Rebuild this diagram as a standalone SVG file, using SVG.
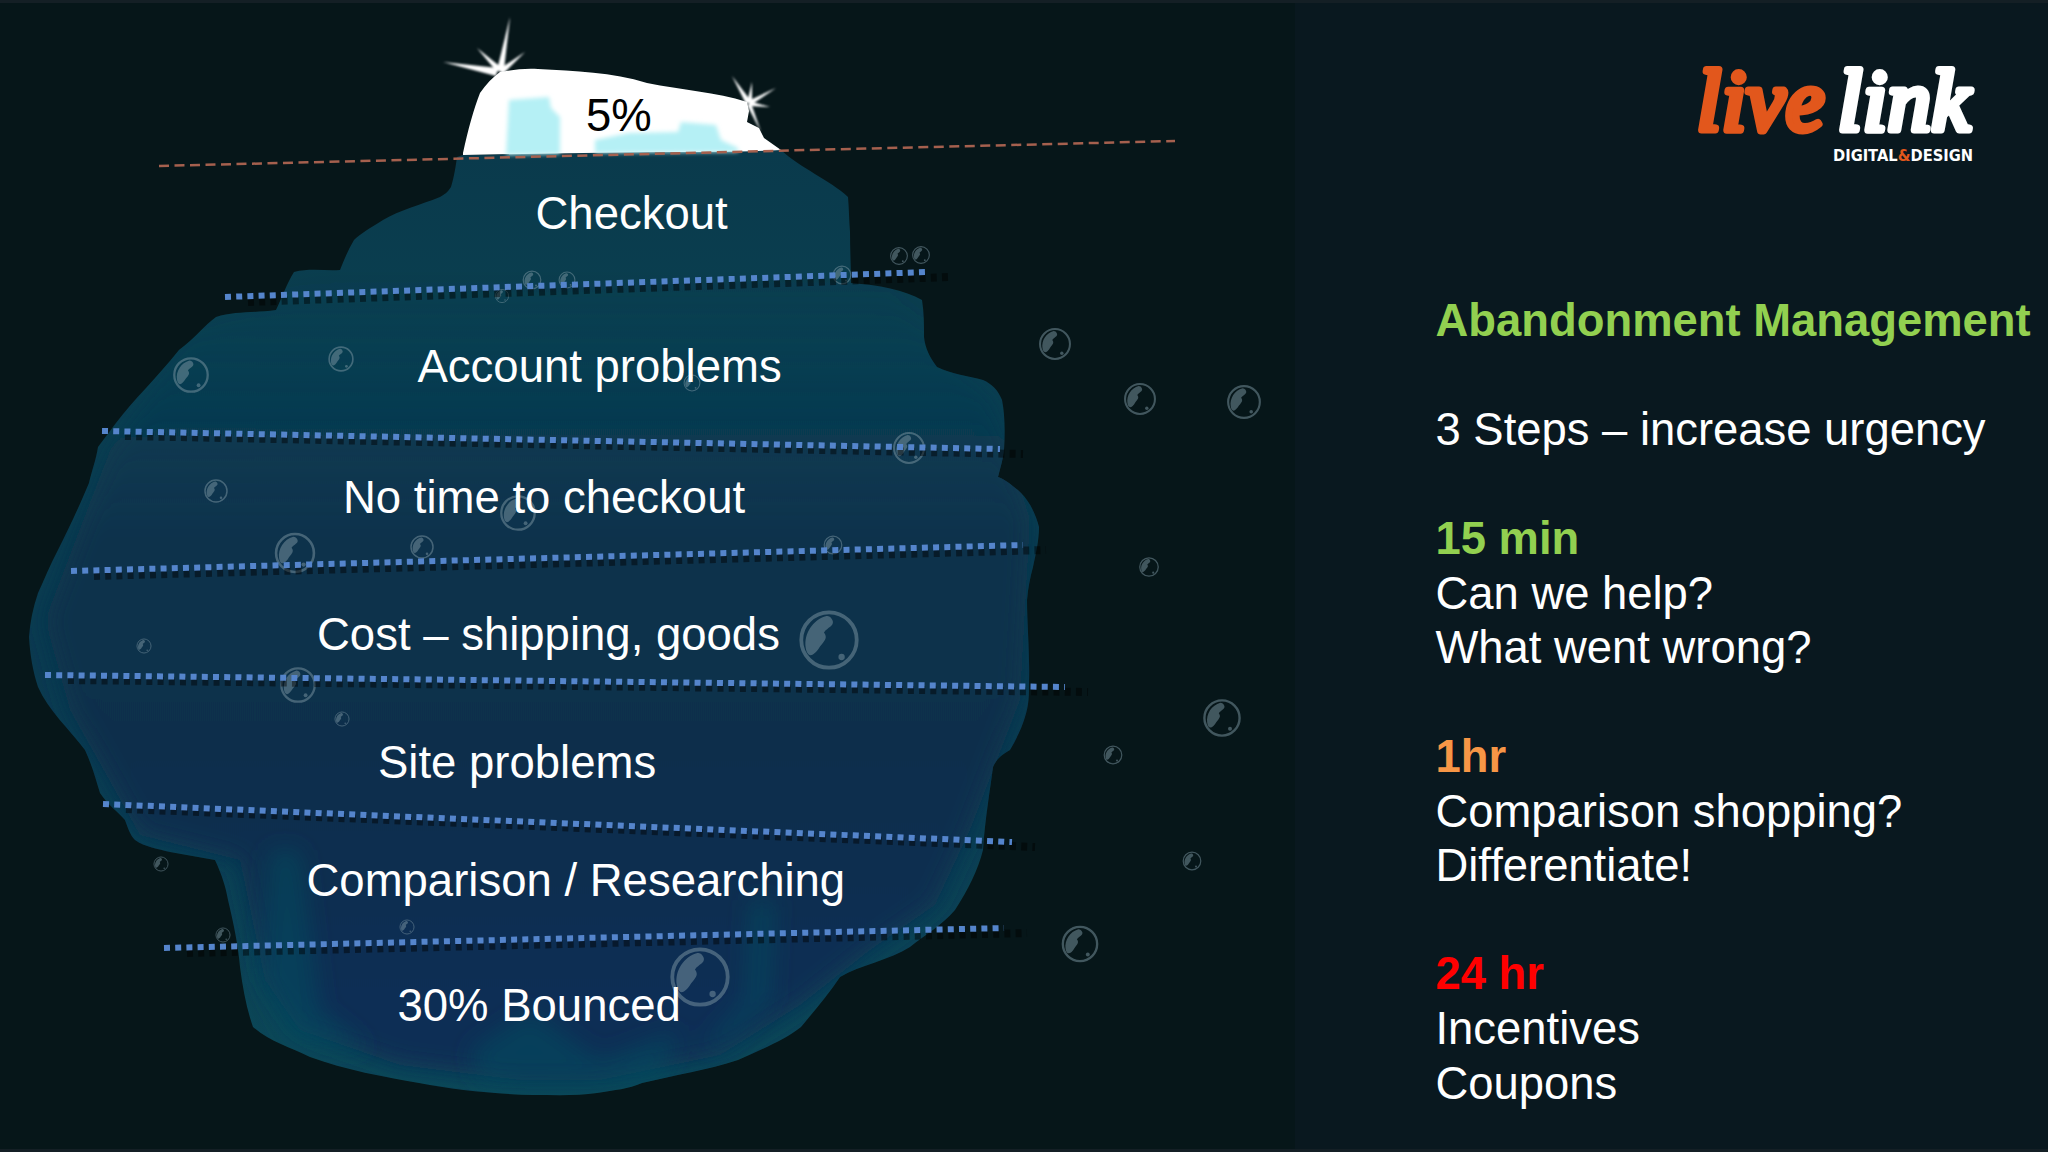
<svg xmlns="http://www.w3.org/2000/svg" width="2048" height="1152" viewBox="0 0 2048 1152">
<style>
text{font-family:"Liberation Sans",Arial,sans-serif;font-size:45.5px}
.w{fill:#fff}
.r{fill:#fff;font-size:45.4px}
.b{font-weight:bold}
.dot{fill:none;stroke:#5585cc;stroke-width:6;stroke-dasharray:6 5.2}
.sh{fill:none;stroke:#000;stroke-opacity:.45;stroke-width:8;stroke-dasharray:6 5.2}
.ray{fill:#fff}
.logo{font-family:"Liberation Serif",serif;font-style:italic;font-size:86px;stroke-width:7;stroke-linejoin:round;letter-spacing:1px}
.tag{font-family:"DejaVu Sans",sans-serif;font-weight:bold;font-size:16px;fill:#fff}
</style>
<defs>
<linearGradient id="ice" gradientUnits="userSpaceOnUse" x1="0" y1="150" x2="0" y2="1100">
<stop offset="0" stop-color="#0a3a4c"/><stop offset=".2" stop-color="#0a3f50"/><stop offset=".55" stop-color="#0a3a50"/><stop offset="1" stop-color="#0b4858"/>
</linearGradient>
<linearGradient id="deep" gradientUnits="userSpaceOnUse" x1="0" y1="280" x2="0" y2="1000">
<stop offset="0" stop-color="#0c3d55" stop-opacity="0"/><stop offset=".35" stop-color="#0a324c"/><stop offset=".65" stop-color="#0a2f4c"/><stop offset="1" stop-color="#0c2e54"/>
</linearGradient>
<filter id="soft" x="-10%" y="-10%" width="120%" height="120%"><feGaussianBlur stdDeviation="11"/></filter>
<filter id="glow" x="-40%" y="-40%" width="180%" height="180%"><feGaussianBlur stdDeviation="1.2"/></filter>
<filter id="patch" x="-20%" y="-20%" width="140%" height="140%"><feGaussianBlur stdDeviation="2"/></filter>
<path id="bergshape" d="M463 155L457 157C455 172 453 180 451 187C447 193 445 194 440 197C420 205 400 210 383 220C370 228 360 234 354 240C348 250 344 260 340 270C325 271 310 268 294 272C286 285 282 298 276 310C255 313 235 311 216 317C205 325 195 338 179 350C155 380 135 398 116 423L98 447C96 460 92 470 89 483C80 505 68 530 58 550C50 565 44 580 38 593C33 608 30 622 29 637C30 655 33 672 38 687C48 710 70 730 85 750C92 765 96 780 100 793C108 805 118 812 125 820C128 828 130 835 135 840C145 847 158 849 170 852C185 855 200 857 215 860C222 875 226 888 228 900C234 925 238 945 240 967C243 990 247 1010 253 1027C270 1042 290 1047 310 1057C345 1070 385 1077 419 1083C455 1090 495 1094 534 1095C555 1095 578 1096 597 1093C615 1090 628 1089 642 1083C675 1075 708 1070 738 1060C760 1050 785 1040 801 1027C815 1010 828 995 840 977C860 965 890 960 910 947C925 935 942 925 955 910C968 890 978 870 983 850C985 820 990 790 993 767C997 758 1002 755 1010 750C1017 738 1022 727 1025 717C1029 705 1029 695 1029 683C1030 655 1027 625 1027 600C1028 588 1030 578 1033 567C1036 553 1039 540 1039 527C1036 515 1030 502 1021 493C1012 485 1006 480 998 477C1000 468 1003 460 1004 450C1005 433 1005 415 1002 400C998 390 992 384 983 380C968 376 952 374 937 367C930 358 925 348 924 337C924 325 924 312 922 300C905 290 878 285 851 283C851 268 850 250 850 232C849 220 849 208 848 197C830 180 800 168 781 150Z"/>
<clipPath id="bergclip"><use href="#bergshape"/></clipPath>
<g id="bub" opacity=".5">
<circle r="44" fill="none" stroke="#7d97a3" stroke-width="6"/>
<path d="M-4-38C-26-32-40-10-37 12C-34 32-22 24-14 10C-6 0-2-4-8-12C-2-20 8-22 6-30C4-36 0-38-4-38Z" fill="#7d97a3"/>
<circle cx="20" cy="27" r="5" fill="#7d97a3"/>
</g>
</defs>

<rect width="2048" height="1152" fill="#061619"/>
<rect x="1295" width="753" height="1152" fill="#09181f"/>
<rect width="2048" height="3" fill="#141f25"/>
<rect y="1149" width="2048" height="3" fill="#141f25"/>

<g id="bubbles-outside">
<use href="#bub" transform="translate(1055 344) scale(.34)"/>
<use href="#bub" transform="translate(1140 399) scale(.34)"/>
<use href="#bub" transform="translate(1244 402) scale(.36)"/>
<use href="#bub" transform="translate(1149 567) scale(.21)"/>
<use href="#bub" transform="translate(1222 718) scale(.4)"/>
<use href="#bub" transform="translate(1113 755) scale(.2)"/>
<use href="#bub" transform="translate(1192 861) scale(.2)"/>
<use href="#bub" transform="translate(1080 944) scale(.39)"/>
<use href="#bub" transform="translate(161 864) scale(.16)"/>
<use href="#bub" transform="translate(899 256) scale(.19)"/>
<use href="#bub" transform="translate(921 255) scale(.19)"/>
</g>

<g id="iceberg">
<use href="#bergshape" fill="url(#ice)"/>
<g clip-path="url(#bergclip)">
<path fill="url(#deep)" filter="url(#soft)" d="M460 230L845 230L905 310L995 400L1030 520L1020 700L970 830L935 905L870 950L800 1005L720 1055L600 1080L520 1080L400 1065L300 1030L265 980L240 860L140 835L70 710L45 620L110 450L190 330Z"/>
<g fill="#0c5060" fill-opacity=".5" filter="url(#soft)">
<path d="M270 850L300 850L320 1010L370 1050L290 1040L262 980Z"/>
<path d="M750 900L775 900L770 1000L730 1040L700 1050L745 1000Z"/>
<path d="M470 1050L530 1010L600 1060L680 1030L660 1082L480 1080Z"/>
</g>
</g>
<path id="tip" fill="#fff" d="M463 155L463 153C468 130 474 108 480 93C486 84 493 77 500 72C512 70 525 68 538 69C575 71 612 72 647 83C682 90 716 92 747 102L749 111L747 122L759 128L764 138L781 150C745 152 700 152 660 152Q560 153 463 155Z"/>
<g fill="#b5f0f5" filter="url(#patch)">
<path d="M509 100L549 97L551 108L560 117L560 154L506 155Z"/>
<path d="M595 140L629 133L678 132L681 122L716 125L721 140L738 148L738 152L595 153Z"/>
</g>
</g>

<g id="sparkles" filter="url(#glow)">
<path class="ray" d="M510 17L504 70L497 70Z"/>
<path class="ray" d="M443 62L498 68L496 76Z"/>
<path class="ray" d="M477 48L502 68L497 72Z"/>
<path class="ray" d="M525 52L503 74L498 70Z"/>
<path class="ray" d="M732 76L751 101L746 104Z"/>
<path class="ray" d="M752 82L752 103L747 103Z"/>
<path class="ray" d="M776 88L751 105L748 101Z"/>
<path class="ray" d="M770 107L749 106L749 101Z"/>
<path class="ray" d="M761 132L747 105L751 103Z"/>
</g>

<g id="bubbles-inside">
<use href="#bub" transform="translate(829 640) scale(.63)"/>
<use href="#bub" transform="translate(909 448) scale(.34)"/>
<use href="#bub" transform="translate(833 545) scale(.2)"/>
<use href="#bub" transform="translate(842 275) scale(.2)"/>
<use href="#bub" transform="translate(191 375) scale(.38)"/>
<use href="#bub" transform="translate(341 359) scale(.27)"/>
<use href="#bub" transform="translate(216 491) scale(.25)"/>
<use href="#bub" transform="translate(518 513) scale(.38)"/>
<use href="#bub" transform="translate(295 553) scale(.43)"/>
<use href="#bub" transform="translate(422 547) scale(.25)"/>
<use href="#bub" transform="translate(144 646) scale(.16)"/>
<use href="#bub" transform="translate(298 685) scale(.38)"/>
<use href="#bub" transform="translate(342 719) scale(.16)"/>
<use href="#bub" transform="translate(532 280) scale(.2)"/>
<use href="#bub" transform="translate(567 280) scale(.18)"/>
<use href="#bub" transform="translate(502 296) scale(.15)"/>
<use href="#bub" transform="translate(223 935) scale(.16)"/>
<use href="#bub" transform="translate(407 927) scale(.16)"/>
<use href="#bub" transform="translate(700 977) scale(.63)"/>
<use href="#bub" transform="translate(692 383) scale(.18)"/>
</g>

<g id="connectors">
<path d="M159 166L1175 141" fill="none" stroke="#a5604e" stroke-width="2.5" stroke-dasharray="10 5.5"/>
<g class="shadows">
<path class="sh" d="M248 302L951 277"/>
<path class="sh" d="M125 436L1023 454"/>
<path class="sh" d="M94 576L1046 550"/>
<path class="sh" d="M68 680L1088 692"/>
<path class="sh" d="M126 809L1035 847"/>
<path class="sh" d="M187 953L1027 933"/>
</g>
<path class="dot" d="M225 297L928 272"/>
<path class="dot" d="M102 431L1000 449"/>
<path class="dot" d="M71 571L1023 545"/>
<path class="dot" d="M45 675L1065 687"/>
<path class="dot" d="M103 804L1012 842"/>
<path class="dot" d="M164 948L1004 928"/>
</g>

<g id="labels-left">
<text id="n-5" x="586" y="131" fill="#000">5%</text>
<text id="n-checkout" class="w" x="535.5" y="229">Checkout</text>
<text id="n-account" class="w" x="417.5" y="382">Account problems</text>
<text id="n-notime" class="w" x="343" y="513">No time to checkout</text>
<text id="n-cost" class="w" x="317" y="650">Cost – shipping, goods</text>
<text id="n-site" class="w" x="378" y="778">Site problems</text>
<text id="n-compare" class="w" x="306.5" y="896">Comparison / Researching</text>
<text id="n-bounced" class="w" x="397.5" y="1021">30% Bounced</text>
</g>

<g id="logo">
<text class="logo" x="1697" y="130" fill="#e2571c" stroke="#e2571c">live</text>
<text class="logo" x="1838" y="130" fill="#fff" stroke="#fff">link</text>
<text class="tag" x="1833" y="161" textLength="140" lengthAdjust="spacingAndGlyphs">DIGITAL<tspan style="fill:#e2571c">&amp;</tspan>DESIGN</text>
</g>

<g id="panel-right">
<text class="r b" x="1435.5" y="336" style="fill:#92d050">Abandonment Management</text>
<text class="r" x="1435.5" y="445">3 Steps – increase urgency</text>
<text class="r b" x="1435.5" y="554" style="fill:#92d050">15 min</text>
<text class="r" x="1435.5" y="609">Can we help?</text>
<text class="r" x="1435.5" y="663">What went wrong?</text>
<text class="r b" x="1435.5" y="772" style="fill:#f79646">1hr</text>
<text class="r" x="1435.5" y="827">Comparison shopping?</text>
<text class="r" x="1435.5" y="881">Differentiate!</text>
<text class="r b" x="1435.5" y="989" style="fill:#ff0000">24 hr</text>
<text class="r" x="1435.5" y="1044">Incentives</text>
<text class="r" x="1435.5" y="1099">Coupons</text>
</g>
</svg>
